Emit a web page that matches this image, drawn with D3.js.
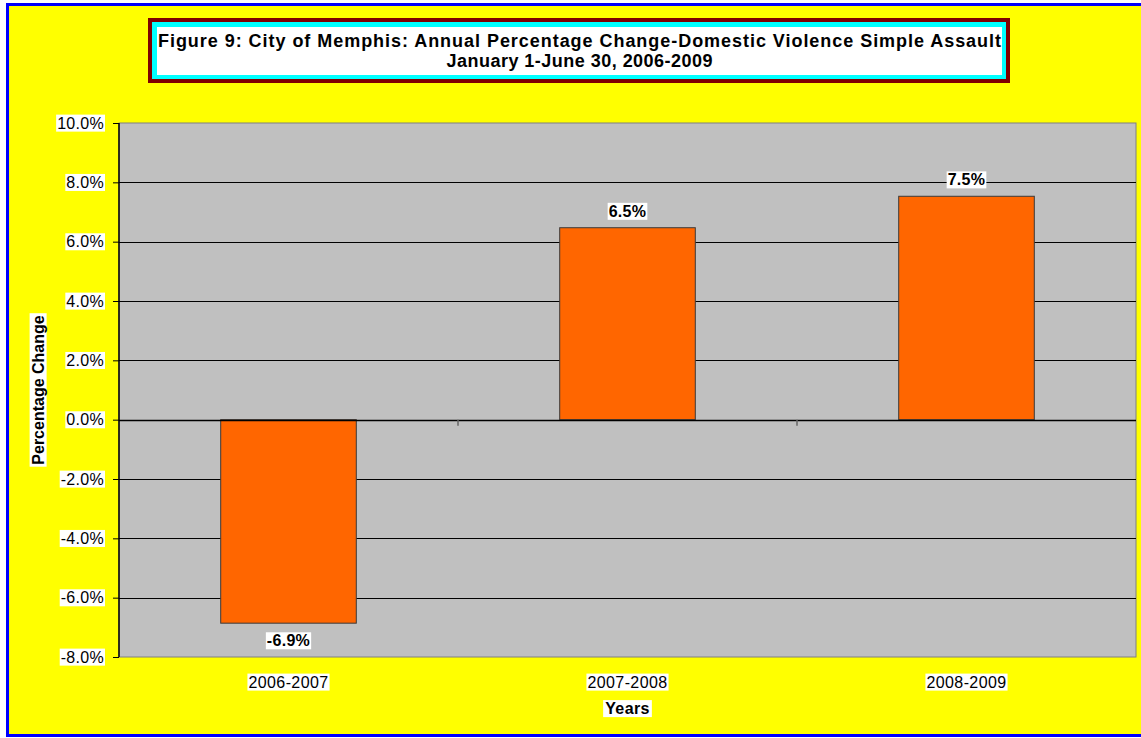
<!DOCTYPE html>
<html>
<head>
<meta charset="utf-8">
<script src="https://cdn.jsdelivr.net/npm/d3@7"></script>
<style>
  body { margin: 0; background: #fff; }
  text { font-family: "Liberation Sans", Arial, sans-serif; fill: #000; }
</style>
</head>
<body>
<div id="chart"></div>
<script>
// values
const categories = ["2006-2007", "2007-2008", "2008-2009"];
const changes = [-6.86, 6.47, 7.53];
const yTicks = [-8, -6, -4, -2, 0, 2, 4, 6, 8, 10];
const titleLines = [
    "Figure 9: City of Memphis: Annual Percentage Change-Domestic Violence Simple Assault",
    "January 1-June 30, 2006-2009"
];

const W = 1141, H = 738;
const margin = {top: 123, right: 5, bottom: 81, left: 119},
    width = W - margin.left - margin.right,
    height = H - margin.top - margin.bottom;

const fmt = d3.formatLocale({decimal: ".", thousands: ",", grouping: [3], currency: ["$", ""], minus: "-"}).format(".1f");

const svg = d3.select("#chart").append("svg")
    .attr("width", W)
    .attr("height", H);

// yellow page with blue frame
svg.append("rect")
    .attr("x", 7.5).attr("y", 4.5)
    .attr("width", W + 10).attr("height", 731)
    .attr("fill", "#ffff00")
    .attr("stroke", "#0000ff")
    .attr("stroke-width", 3);

// put a white box behind a text element
function backBox(sel, padX, padY) {
    sel.each(function () {
        const b = this.getBBox();
        d3.select(this.parentNode).insert("rect", () => this)
            .attr("x", b.x - padX).attr("y", b.y - padY)
            .attr("width", b.width + 2 * padX).attr("height", b.height + 2 * padY)
            .attr("fill", "#fff");
    });
}

// title box
const tb = svg.append("g");
tb.append("rect").attr("x", 148).attr("y", 18).attr("width", 862).attr("height", 65).attr("fill", "#800000");
tb.append("rect").attr("x", 152).attr("y", 22).attr("width", 854).attr("height", 57).attr("fill", "#00ffff");
tb.append("rect").attr("x", 157).attr("y", 27).attr("width", 845).attr("height", 48).attr("fill", "#fff");
tb.selectAll("text.title")
    .data(titleLines)
    .enter().append("text")
    .attr("class", "title")
    .attr("x", 579.5)
    .attr("y", (d, i) => 46.5 + i * 20)
    .attr("text-anchor", "middle")
    .attr("textLength", (d, i) => i === 0 ? 843 : 266)
    .attr("lengthAdjust", "spacing")
    .style("font-size", "18px")
    .style("font-weight", "bold")
    .text(d => d);

const g = svg.append("g")
    .attr("transform", `translate(${margin.left},${margin.top})`);

const x = d3.scaleBand()
    .domain(categories)
    .range([0, width])
    .paddingInner(0.6)
    .paddingOuter(0.3);

const y = d3.scaleLinear()
    .domain([-8, 10])
    .range([height, 0]);

// plot area
g.append("rect")
    .attr("x", 0).attr("y", 0)
    .attr("width", width).attr("height", height)
    .attr("fill", "#c0c0c0")
    .attr("stroke", "#808080")
    .attr("stroke-width", 1);

// gridlines
g.append("g")
    .selectAll("line")
    .data(yTicks.filter(t => t > -8 && t < 10))
    .enter().append("line")
    .attr("x1", 0).attr("x2", width)
    .attr("y1", d => Math.round(y(d)) + 0.5)
    .attr("y2", d => Math.round(y(d)) + 0.5)
    .attr("stroke", "#000")
    .attr("stroke-width", 1);

// bars
g.append("g")
    .selectAll("rect")
    .data(changes)
    .enter().append("rect")
    .attr("x", (d, i) => x(categories[i]))
    .attr("y", d => y(Math.max(0, d)))
    .attr("width", x.bandwidth())
    .attr("height", d => Math.abs(y(d) - y(0)))
    .attr("fill", "#ff6600")
    .attr("stroke", "#3a3a3a")
    .attr("stroke-width", 1);

// category axis along zero
const step = x.step();
g.append("line")
    .attr("x1", 0).attr("x2", width)
    .attr("y1", Math.round(y(0)) + 0.5).attr("y2", Math.round(y(0)) + 0.5)
    .attr("stroke", "#000")
    .attr("stroke-width", 1.5);
g.append("g")
    .selectAll("line")
    .data(categories.slice(1))
    .enter().append("line")
    .attr("x1", d => x(d) - (step - x.bandwidth()) / 2)
    .attr("x2", d => x(d) - (step - x.bandwidth()) / 2)
    .attr("y1", y(0)).attr("y2", y(0) + 6)
    .attr("stroke", "#666")
    .attr("stroke-width", 1.5);

// y axis
const yAxis = g.append("g")
    .call(d3.axisLeft(y).tickValues(yTicks).tickSize(6).tickPadding(9).tickFormat(d => fmt(d) + "%"));
yAxis.select(".domain").attr("stroke", "#000").attr("stroke-width", 1.5).attr("d", `M0,0V${height}`);
yAxis.selectAll(".tick line").attr("stroke", "#000");
yAxis.selectAll(".tick text")
    .attr("font-family", null).attr("font-size", null)
    .style("font-size", "16px")
    .style("letter-spacing", "0.3px")
    .attr("fill", "#000");
backBox(yAxis.selectAll(".tick text"), 1, 0);

// data labels
const labels = g.append("g")
    .selectAll("text")
    .data(changes)
    .enter().append("text")
    .attr("x", (d, i) => x(categories[i]) + x.bandwidth() / 2)
    .attr("y", d => d >= 0 ? y(d) - 16.5 : y(d) + 17.5)
    .attr("dy", "0.35em")
    .attr("text-anchor", "middle")
    .style("font-size", "16px")
    .style("font-weight", "bold")
    .style("letter-spacing", "0.3px")
    .text(d => fmt(d) + "%");
backBox(labels, 1, 0);

// category labels
const cats = g.append("g")
    .selectAll("text")
    .data(categories)
    .enter().append("text")
    .attr("x", d => x(d) + x.bandwidth() / 2)
    .attr("y", height + 25)
    .attr("dy", "0.35em")
    .attr("text-anchor", "middle")
    .style("font-size", "16px")
    .style("letter-spacing", "0.4px")
    .text(d => d);
backBox(cats, 1, 0);

// axis titles
const xt = g.append("text")
    .attr("x", width / 2)
    .attr("y", height + 51.5)
    .attr("dy", "0.35em")
    .attr("text-anchor", "middle")
    .style("font-size", "16px")
    .style("font-weight", "bold")
    .style("letter-spacing", "0.4px")
    .text("Years");
backBox(xt, 2, 0);

const yt = svg.append("g")
    .attr("transform", "translate(38,390) rotate(-90)");
const ytt = yt.append("text")
    .attr("x", 0).attr("y", 0)
    .attr("dy", "0.35em")
    .attr("text-anchor", "middle")
    .style("font-size", "16px")
    .style("font-weight", "bold")
    .text("Percentage Change");
backBox(ytt, 2, 0);
</script>
</body>
</html>
